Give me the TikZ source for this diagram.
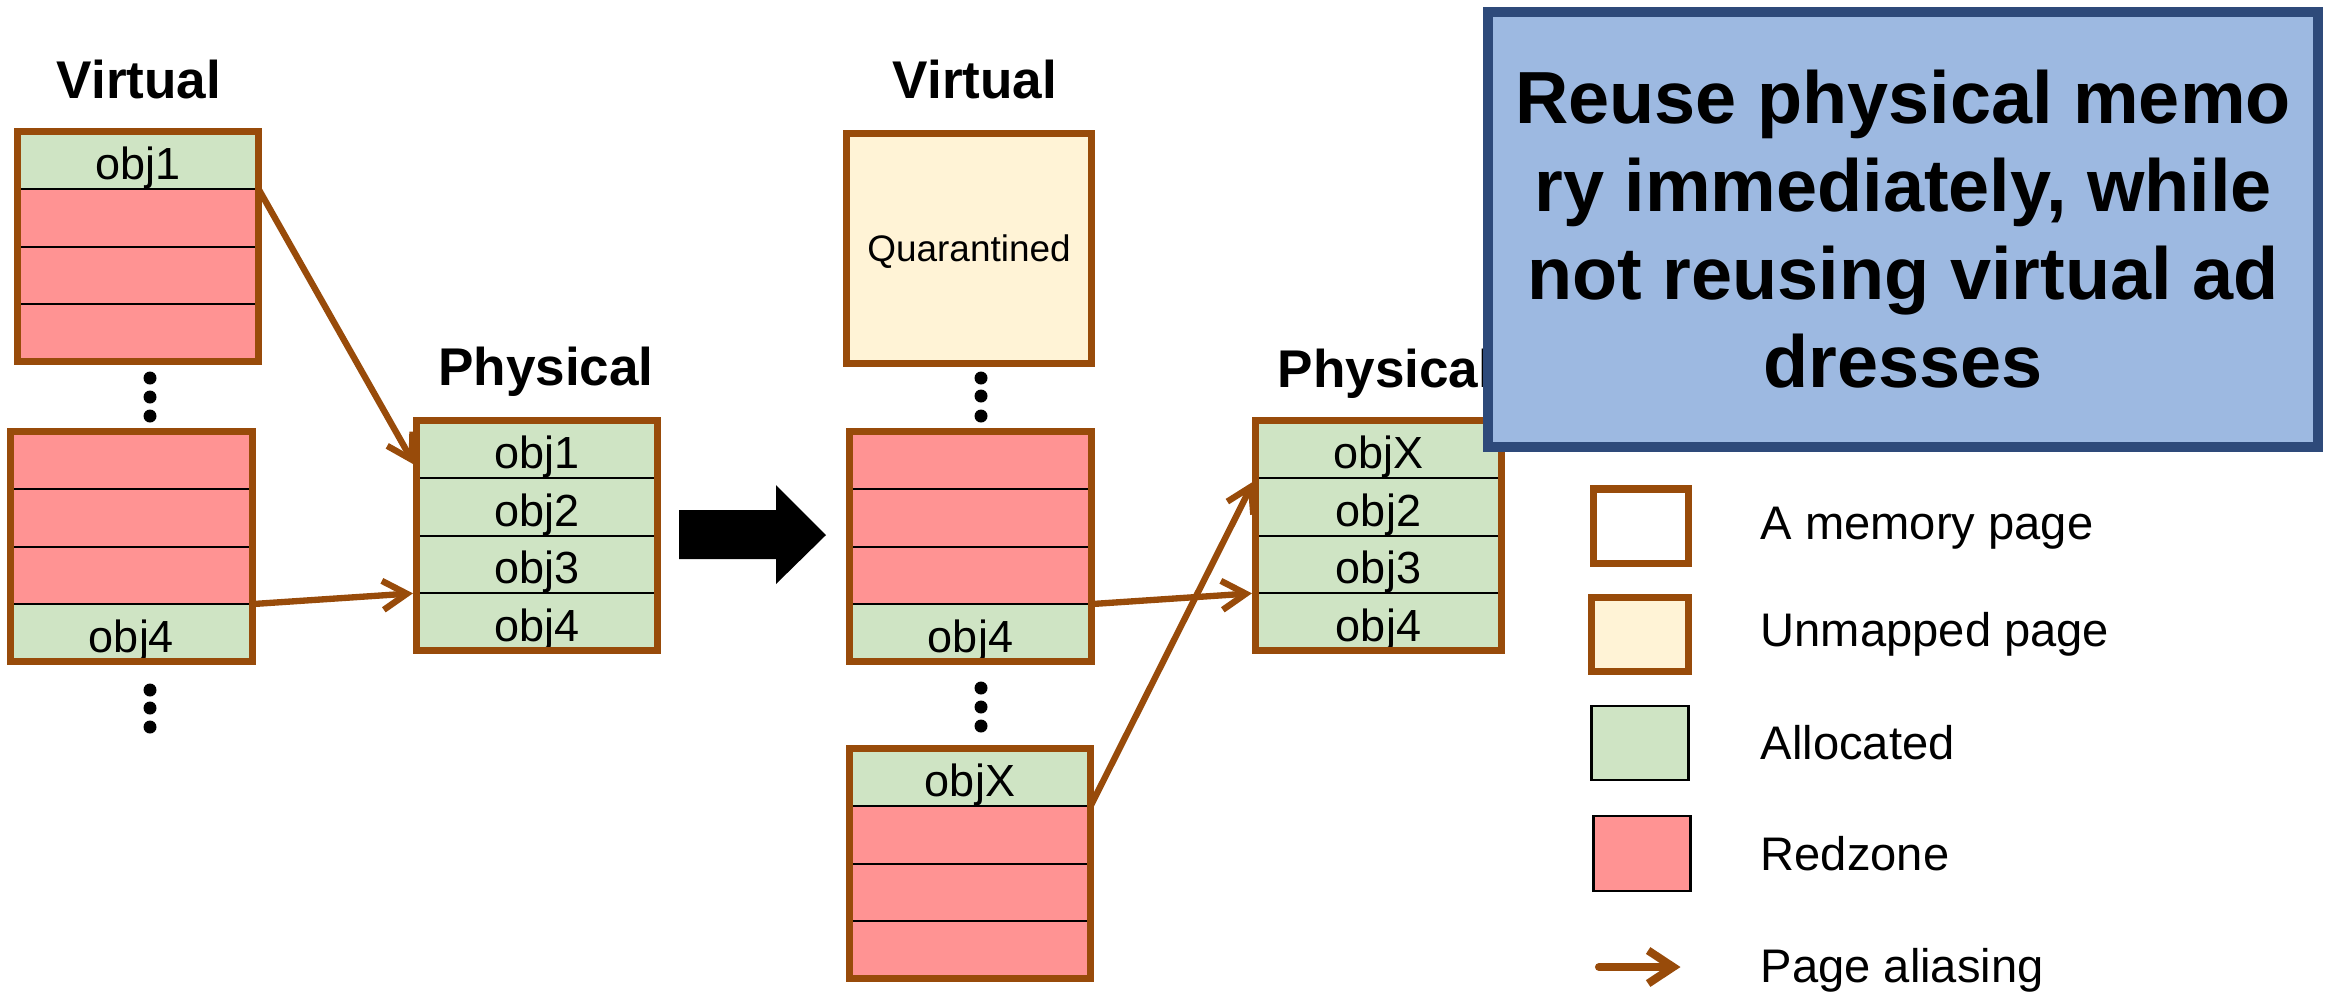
\documentclass[tikz,border=0pt]{standalone}
\usepackage{fontspec}
\setmainfont{Liberation Sans}
\usetikzlibrary{positioning,arrows.meta}
\definecolor{pagebrown}{RGB}{152,75,10}
\definecolor{allocgreen}{HTML}{CFE4C4}
\definecolor{redzone}{HTML}{FF9393}
\definecolor{cream}{HTML}{FFF3D6}
\definecolor{noteblue}{HTML}{9DB9E1}
\definecolor{noteborder}{HTML}{2E4A7A}

\begin{document}
\begin{tikzpicture}[x=0.01cm,y=-0.01cm,
  pgcell/.style={draw=black, line width=0.6pt, inner sep=0pt, outer sep=0pt,
    minimum width=2.41cm, minimum height=0.575cm, text height=11pt, text depth=0pt,
    font=\fontsize{12.8}{15}\selectfont},
  alloc/.style={pgcell, fill=allocgreen},
  redz/.style={pgcell, fill=redzone},
  page/.style={draw=pagebrown, line width=2pt},
  pagetitle/.style={font=\fontsize{15.1}{18}\selectfont\bfseries, inner sep=0pt, anchor=base},
  aliasarrow/.style={draw=pagebrown, line width=1.8pt, line cap=round, line join=round,
    -{Straight Barb[length=2.4mm,width=2.9mm]}, shorten >=1pt},
  legtext/.style={font=\fontsize{13.4}{16}\selectfont, inner sep=0pt, anchor=base west}]
\useasboundingbox (0,0) rectangle (2336,993);

% before
\node[pagetitle] (virt1) at (139,98) {Virtual};
\node[pagetitle] (phys1) at (546,385) {Physical};

\node[alloc] (v1a) at (138,160.25) {obj1};
\node[redz, below=0pt of v1a] (v1b) {};
\node[redz, below=0pt of v1b] (v1c) {};
\node[redz, below=0pt of v1c] (v1d) {};
\draw[page] (v1a.north west) rectangle (v1d.south east);

\node[redz] (v2a) at (131.5,460.25) {};
\node[redz, below=0pt of v2a] (v2b) {};
\node[redz, below=0pt of v2b] (v2c) {};
\node[alloc, below=0pt of v2c] (v2d) {obj4};
\draw[page] (v2a.north west) rectangle (v2d.south east);

\node[alloc] (p1a) at (537,449.25) {obj1};
\node[alloc, below=0pt of p1a] (p1b) {obj2};
\node[alloc, below=0pt of p1b] (p1c) {obj3};
\node[alloc, below=0pt of p1c] (p1d) {obj4};
\draw[page] (p1a.north west) rectangle (p1d.south east);

\fill (150,378) circle (6.5);
\fill (150,397) circle (6.5);
\fill (150,416) circle (6.5);
\fill (150,690) circle (6.5);
\fill (150,708) circle (6.5);
\fill (150,727) circle (6.5);

\draw[aliasarrow] (v1a.south east) -- ([yshift=1mm]p1a.south west);
\draw[aliasarrow] (v2d.north east) -- (p1d.north west);

\fill (679,510) -- (776,510) -- (776,485) -- (826,535) -- (776,584) -- (776,559) -- (679,559) -- cycle;

% after
\node[pagetitle] (virt2) at (975,98) {Virtual};
\node[pagetitle, anchor=base west] (phys2) at (1277,387) {Physical};

\node[page, fill=cream, minimum width=2.45cm, minimum height=2.3cm, inner sep=0pt, text depth=0pt,
  font=\fontsize{10.5}{12}\selectfont] (quar) at (969,248.5) {Quarantined};

\node[redz] (v3a) at (970.5,460.25) {};
\node[redz, below=0pt of v3a] (v3b) {};
\node[redz, below=0pt of v3b] (v3c) {};
\node[alloc, below=0pt of v3c] (v3d) {obj4};
\draw[page] (v3a.north west) rectangle (v3d.south east);

\node[alloc] (v4a) at (970,777.25) {objX};
\node[redz, below=0pt of v4a] (v4b) {};
\node[redz, below=0pt of v4b] (v4c) {};
\node[redz, below=0pt of v4c] (v4d) {};
\draw[page] (v4a.north west) rectangle (v4d.south east);

\node[alloc, minimum width=2.46cm] (p2a) at (1378.5,449.25) {objX};
\node[alloc, minimum width=2.46cm, below=0pt of p2a] (p2b) {obj2};
\node[alloc, minimum width=2.46cm, below=0pt of p2b] (p2c) {obj3};
\node[alloc, minimum width=2.46cm, below=0pt of p2c] (p2d) {obj4};
\draw[page] (p2a.north west) rectangle (p2d.south east);

\fill (981,378) circle (6.5);
\fill (981,396) circle (6.5);
\fill (981,416) circle (6.5);
\fill (981,688) circle (6.5);
\fill (981,707) circle (6.5);
\fill (981,726) circle (6.5);

\draw[aliasarrow] (v3d.north east) -- (p2d.north west);
\draw[aliasarrow] (v4a.south east) -- (p2a.south west);

\node[draw=noteborder, line width=2.85pt, fill=noteblue, minimum width=8.3cm, minimum height=4.35cm,
  inner sep=0pt, align=center, font=\fontsize{21}{25.04}\selectfont\bfseries] (note) at (1903,229.5)
  {Reuse physical memo\\ry immediately, while\\not reusing virtual ad\\dresses};

% legend
\node[page, fill=white, minimum width=0.95cm, minimum height=0.74cm, inner sep=0pt] (lgpage) at (1641,526) {};
\node[page, fill=cream, minimum width=0.97cm, minimum height=0.74cm, inner sep=0pt] (lgunmap) at (1640,634.5) {};
\node[draw=black, line width=0.7pt, fill=allocgreen, minimum width=0.97cm, minimum height=0.74cm, inner sep=0pt] (lgalloc) at (1640,743) {};
\node[draw=black, line width=0.7pt, fill=redzone, minimum width=0.97cm, minimum height=0.75cm, inner sep=0pt] (lgred) at (1642,853.5) {};
\coordinate (lgfrom) at (1599,967);
\coordinate (lgto) at (1684,967);
\draw[aliasarrow, line width=2.3pt, -{Straight Barb[length=2.5mm,width=3.3mm]}] (lgfrom) -- (lgto);

\node[legtext] (lgpagetxt) at (1760,539) {A memory page};
\node[legtext] (lgunmaptxt) at (1760,646) {Unmapped page};
\node[legtext] (lgalloctxt) at (1760,759) {Allocated};
\node[legtext] (lgredtxt) at (1760,870) {Redzone};
\node[legtext] (lgaliastxt) at (1760,982) {Page aliasing};
\end{tikzpicture}
\end{document}
